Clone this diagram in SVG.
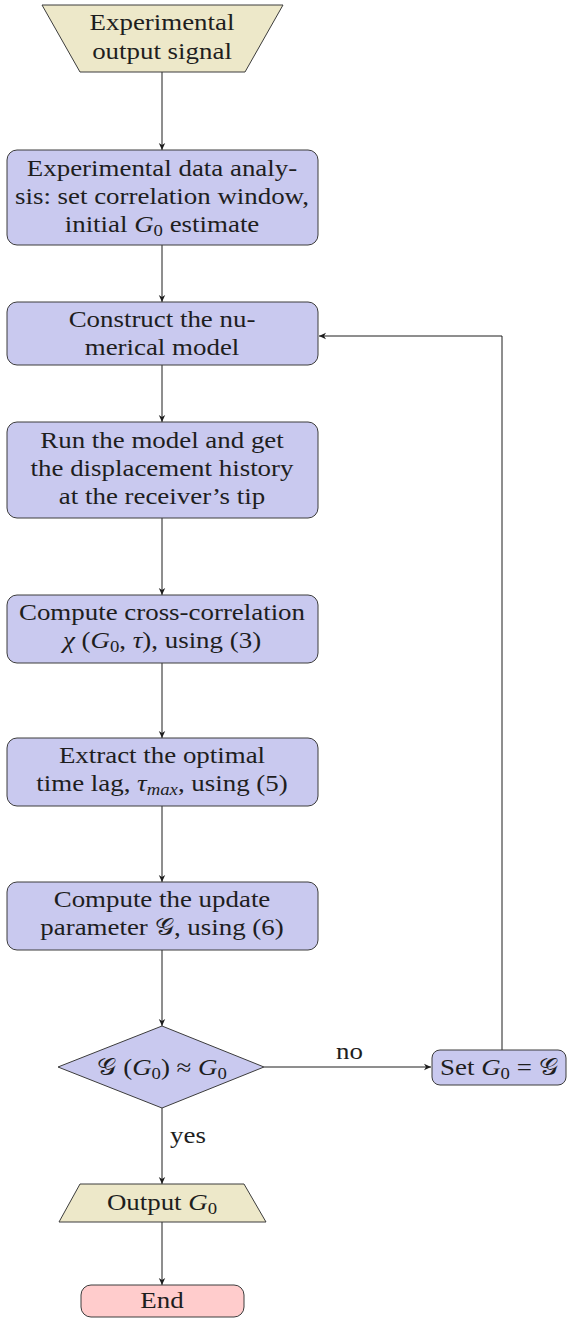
<svg xmlns="http://www.w3.org/2000/svg" width="568" height="1319" viewBox="0 0 568 1319">
  <style>
    text { font-family: "Liberation Serif", "DejaVu Serif", "DejaVu Sans", serif; font-size: 23px; fill: #1e1e1e; text-anchor: middle; }
    .proc { fill: #c9c9ef; stroke: #3c3c3c; stroke-width: 1; }
    .io { fill: #ede8c9; stroke: #3c3c3c; stroke-width: 1; }
    .stop { fill: #ffcccc; stroke: #3c3c3c; stroke-width: 1; }
    .edge { fill: none; stroke: #1e1e1e; stroke-width: 1; marker-end: url(#tip); }
    .it { font-style: italic; }
    .sub { font-size: 16px; }
    .lbl { text-anchor: start; }
  </style>
  <defs>
    <marker id="tip" viewBox="-8 -4 9 8" markerWidth="9" markerHeight="8" refX="0" refY="0" orient="auto" markerUnits="userSpaceOnUse">
      <path d="M0,0 L-7,-3.2 L-5,0 L-7,3.2 Z" fill="#1e1e1e"/>
    </marker>
  </defs>

  <!-- connectors -->
  <g id="connectors">
    <line class="edge" x1="162" y1="72" x2="162" y2="150"/>
    <line class="edge" x1="162" y1="245" x2="162" y2="302"/>
    <line class="edge" x1="162" y1="365" x2="162" y2="422"/>
    <line class="edge" x1="162" y1="518" x2="162" y2="595"/>
    <line class="edge" x1="162" y1="663" x2="162" y2="738"/>
    <line class="edge" x1="162" y1="806" x2="162" y2="882"/>
    <line class="edge" x1="162" y1="950" x2="162" y2="1026"/>
    <line class="edge" x1="264" y1="1067" x2="431" y2="1067"/>
    <polyline class="edge" points="502,1050 502,336 319,336"/>
    <line class="edge" x1="162" y1="1108" x2="162" y2="1184"/>
    <line class="edge" x1="162" y1="1222" x2="162" y2="1285"/>
    <text class="lbl" x="0" y="1059" transform="translate(336 0) scale(1.17 1)">no</text>
    <text class="lbl" x="0" y="1143" transform="translate(170 0) scale(1.17 1)">yes</text>
  </g>

  <!-- input signal -->
  <g id="n-input">
    <polygon class="io" points="42,5 283,5 245,72 80,72"/>
    <text transform="translate(162 0) scale(1.17 1)" x="0" y="30">Experimental</text>
    <text transform="translate(162 0) scale(1.17 1)" x="0" y="59">output signal</text>
  </g>

  <!-- data analysis -->
  <g id="n-analysis">
    <rect class="proc" x="7" y="150" width="311" height="95" rx="10"/>
    <text transform="translate(162 0) scale(1.17 1)" x="0" y="176">Experimental data analy-</text>
    <text transform="translate(162 0) scale(1.17 1)" x="0" y="204">sis: set correlation window,</text>
    <text transform="translate(162 0) scale(1.17 1)" x="0" y="232">initial <tspan class="it">G</tspan><tspan class="sub" dy="4">0</tspan><tspan dy="-4"> estimate</tspan></text>
  </g>

  <!-- model construction -->
  <g id="n-construct">
    <rect class="proc" x="7" y="302" width="311" height="63" rx="10"/>
    <text transform="translate(162 0) scale(1.17 1)" x="0" y="327">Construct the nu-</text>
    <text transform="translate(162 0) scale(1.17 1)" x="0" y="355">merical model</text>
  </g>

  <!-- model run -->
  <g id="n-run">
    <rect class="proc" x="7" y="422" width="311" height="96" rx="10"/>
    <text transform="translate(162 0) scale(1.17 1)" x="0" y="448">Run the model and get</text>
    <text transform="translate(162 0) scale(1.17 1)" x="0" y="476">the displacement history</text>
    <text transform="translate(162 0) scale(1.17 1)" x="0" y="504">at the receiver’s tip</text>
  </g>

  <!-- cross-correlation -->
  <g id="n-xcorr">
    <rect class="proc" x="7" y="595" width="311" height="68" rx="10"/>
    <text transform="translate(162 0) scale(1.17 1)" x="0" y="620">Compute cross-correlation</text>
    <text transform="translate(162 0) scale(1.17 1)" x="0" y="648"><tspan class="it">χ</tspan> (<tspan class="it">G</tspan><tspan class="sub" dy="4">0</tspan><tspan dy="-4">, </tspan><tspan class="it">τ</tspan>), using (3)</text>
  </g>

  <!-- time lag -->
  <g id="n-lag">
    <rect class="proc" x="7" y="738" width="311" height="68" rx="10"/>
    <text transform="translate(162 0) scale(1.17 1)" x="0" y="763">Extract the optimal</text>
    <text transform="translate(162 0) scale(1.17 1)" x="0" y="791">time lag, <tspan class="it">τ</tspan><tspan class="sub it" dy="4">max</tspan><tspan dy="-4">, using (5)</tspan></text>
  </g>

  <!-- update parameter -->
  <g id="n-update">
    <rect class="proc" x="7" y="882" width="311" height="68" rx="10"/>
    <text transform="translate(162 0) scale(1.17 1)" x="0" y="907">Compute the update</text>
    <text transform="translate(162 0) scale(1.17 1)" x="0" y="935">parameter 𝒢, using (6)</text>
  </g>

  <!-- convergence test -->
  <g id="n-test">
    <polygon class="proc" points="162,1026 264,1067 162,1108 58,1067"/>
    <text transform="translate(162 0) scale(1.17 1)" x="0" y="1075">𝒢 (<tspan class="it">G</tspan><tspan class="sub" dy="4">0</tspan><tspan dy="-4">) ≈ </tspan><tspan class="it">G</tspan><tspan class="sub" dy="4">0</tspan></text>
  </g>

  <!-- reassignment -->
  <g id="n-set">
    <rect class="proc" x="432" y="1050" width="134" height="35" rx="8"/>
    <text transform="translate(499 0) scale(1.17 1)" x="0" y="1075">Set <tspan class="it">G</tspan><tspan class="sub" dy="4">0</tspan><tspan dy="-4"> = 𝒢</tspan></text>
  </g>

  <!-- output -->
  <g id="n-output">
    <polygon class="io" points="80,1184 244,1184 266,1222 59,1222"/>
    <text transform="translate(162 0) scale(1.17 1)" x="0" y="1210">Output <tspan class="it">G</tspan><tspan class="sub" dy="4">0</tspan></text>
  </g>

  <!-- end -->
  <g id="n-end">
    <rect class="stop" x="81" y="1285" width="163" height="32" rx="10"/>
    <text transform="translate(162 0) scale(1.17 1)" x="0" y="1308">End</text>
  </g>
</svg>
